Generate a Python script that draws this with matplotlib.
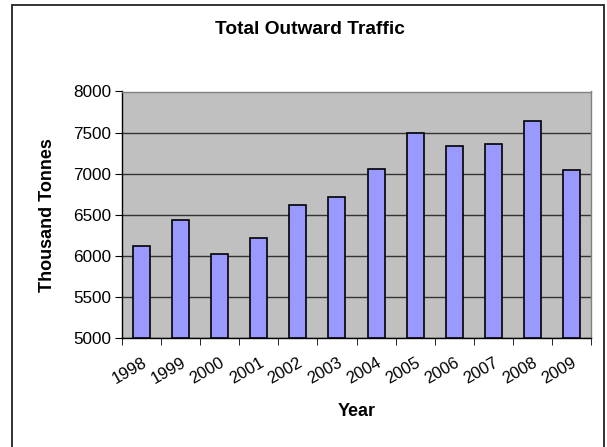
import matplotlib
matplotlib.use("Agg")
import matplotlib.pyplot as plt
from matplotlib.patches import Rectangle
import numpy as np

years = ["1998", "1999", "2000", "2001", "2002", "2003",
         "2004", "2005", "2006", "2007", "2008", "2009"]
traffic = [6120, 6440, 6020, 6220, 6615, 6720,
           7060, 7500, 7340, 7360, 7640, 7040]
yticks = [5000, 5500, 6000, 6500, 7000, 7500, 8000]

plt.rcParams['font.family'] = ['Liberation Sans', 'DejaVu Sans']

W, H = 607, 447
fig = plt.figure(figsize=(W / 100, H / 100), dpi=100)
fig.patch.set_facecolor('white')

# outer chart border
fig.add_artist(Rectangle((12.5 / W, -0.05), (604 - 12.5) / W, 1 - 4.5 / H + 0.05,
                         transform=fig.transFigure, fill=False,
                         edgecolor='#222222', linewidth=1.3))

left, right, top, bottom = 122, 591, 91.5, 338
ax = fig.add_axes([left / W, 1 - bottom / H, (right - left) / W, (bottom - top) / H])
ax.set_facecolor('#C0C0C0')

x = np.arange(len(years))
ax.bar(x, np.array(traffic) - 5000, bottom=5000, width=0.435, color='#9999FF',
       edgecolor='black', linewidth=1.2, zorder=3)

ax.set_xlim(-0.5, len(years) - 0.5)
ax.set_ylim(5000, 8000)
ax.set_yticks(yticks)
ax.set_yticklabels([str(v) for v in yticks], fontsize=12.3)
ax.yaxis.grid(True, color='#333333', linewidth=1.0, zorder=1)
ax.set_axisbelow(True)

ax.set_xticks(x)
ax.set_xticklabels(years, fontsize=12, rotation=30, ha='right', rotation_mode='anchor')
ax.tick_params(axis='x', which='major', length=0, pad=12)
ax.set_xticks(np.arange(-0.5, len(years), 1), minor=True)
ax.tick_params(axis='x', which='minor', length=5, direction='out', color='black')
ax.tick_params(axis='y', length=5, direction='out', color='black', pad=3)

for s in ['top', 'right']:
    ax.spines[s].set_color('#808080')
    ax.spines[s].set_linewidth(1.0)
for s in ['left', 'bottom']:
    ax.spines[s].set_color('black')
    ax.spines[s].set_linewidth(1.0)

ax.set_ylabel('Thousand Tonnes', fontsize=13, fontweight='bold', labelpad=12)
ax.set_xlabel('Year', fontsize=13, fontweight='bold', labelpad=12)

fig.text(310 / W, 1 - 30 / H, 'Total Outward Traffic', ha='center', va='center',
         fontsize=13.8, fontweight='bold')

fig.savefig('out.png', dpi=100)
